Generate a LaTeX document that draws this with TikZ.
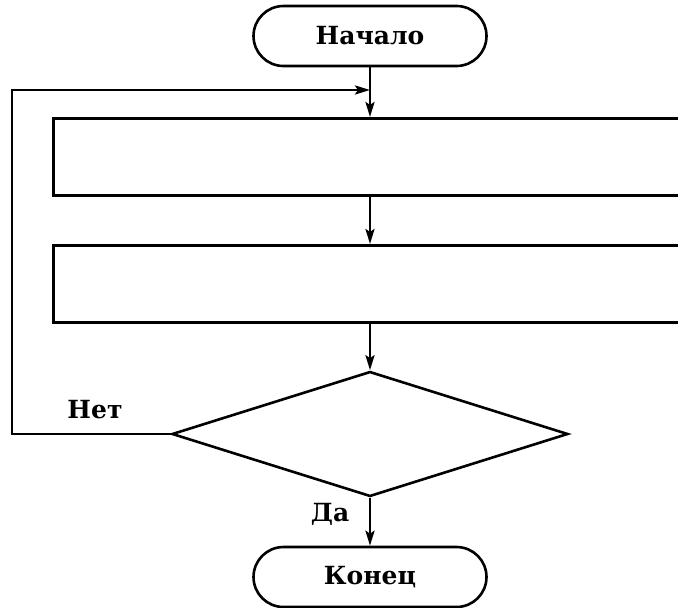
\documentclass[tikz,border=0pt]{standalone}
\usepackage{fontspec}
\setmainfont{DejaVu Serif}
\usetikzlibrary{arrows.meta,shapes.geometric}
\tikzset{
  term/.style={draw, line width=2.6pt, rounded corners=30pt, minimum width=233pt, minimum height=60pt, inner sep=0pt, font=\fontsize{25}{28}\selectfont\bfseries},
  procbox/.style={draw, line width=2.6pt, minimum width=660pt, minimum height=77pt, inner sep=0pt},
  decbox/.style={draw, line width=2.6pt, diamond, minimum width=396pt, minimum height=125pt, inner sep=0pt},
  flow/.style={line width=2.6pt, -{Stealth[length=15pt,width=9pt,inset=3pt]}},
  lbl/.style={font=\fontsize{25}{28}\selectfont\bfseries, inner sep=0pt}
}
\begin{document}
\begin{tikzpicture}[x=1pt,y=-1pt]
\useasboundingbox (0,0) rectangle (678,608);
\clip (0,0) rectangle (678,608);
\node[term] (start) at (370,36) {Начало};
\node[procbox, anchor=north west] (r1) at (52,117) {};
\node[procbox, anchor=north west] (r2) at (52,244) {};
\node[decbox] (dec) at (370,434) {};
\node[term] (end) at (370,577) {Конец};
\coordinate (m) at (370,90);
\coordinate (c1) at (12,434);
\coordinate (c2) at (12,90);
\draw[flow] (start.south) -- (start.south |- r1.north);
\draw[flow] (start.south |- r1.south) -- (start.south |- r2.north);
\draw[flow] (start.south |- r2.south) -- (dec.north);
\draw[flow] (dec.south) -- (end.north);
\draw[flow] (dec.west) -- (c1) -- (c2) -- (m);
\node[lbl] (no) at (95,410) {Нет};
\node[lbl] (yes) at (330,514) {Да};
\end{tikzpicture}
\end{document}
